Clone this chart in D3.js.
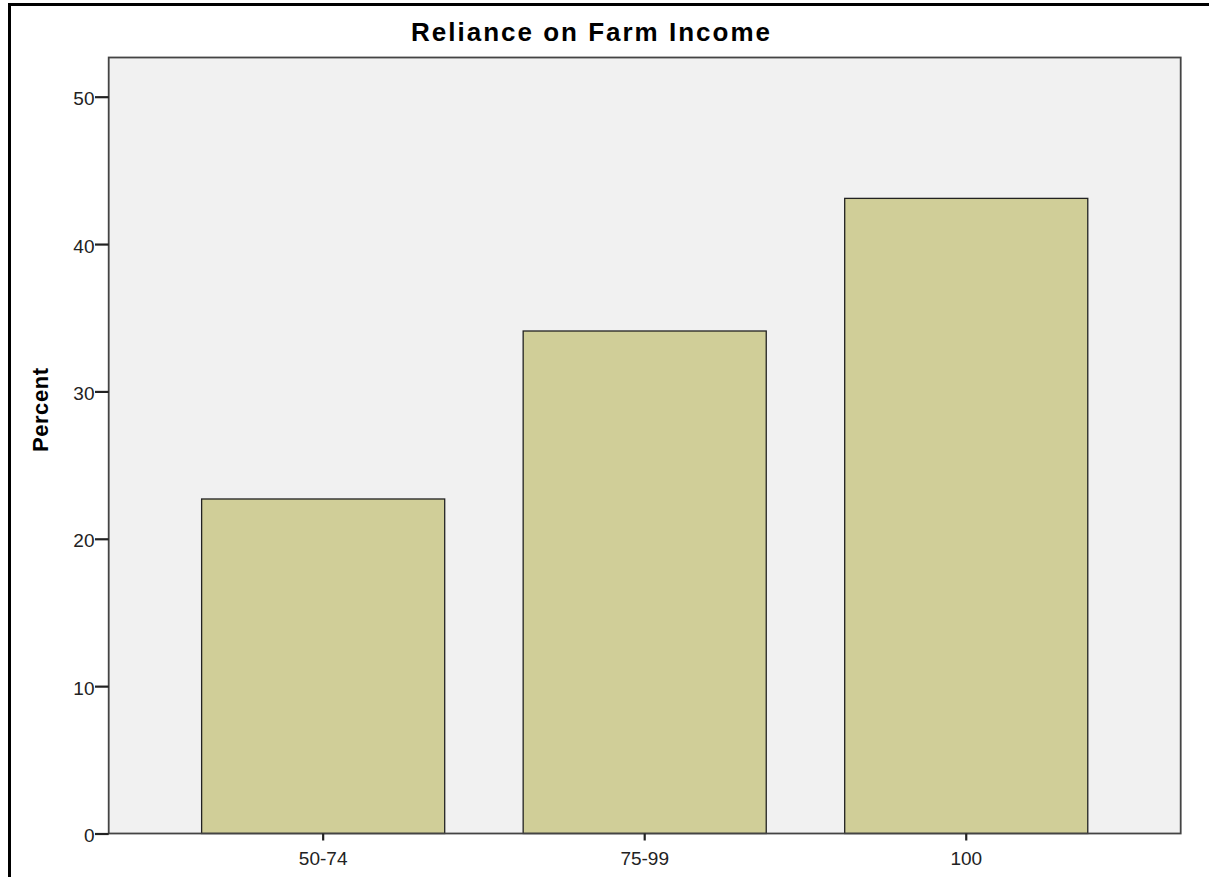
<!DOCTYPE html>
<html><head><meta charset="utf-8">
<script src="https://cdn.jsdelivr.net/npm/d3@7"></script>
<style>body{margin:0;background:#fff}svg{display:block}</style>
</head><body>
<script>
const categories = ["50-74", "75-99", "100"];
const percents = [22.7, 34.1, 43.1];
const yTicks = [0, 10, 20, 30, 40, 50];
const title = "Reliance on Farm Income";
const yLabel = "Percent";

const W = 1209, H = 877;
const svg = d3.select("body").append("svg").attr("width", W).attr("height", H);
const FONT = "Liberation Sans, Arial, sans-serif";

// outer frame (top and left edges visible)
svg.append("line").attr("x1", 9.5).attr("x2", W).attr("y1", 4.5).attr("y2", 4.5).attr("stroke", "#000").attr("stroke-width", 3);
svg.append("line").attr("x1", 9.5).attr("x2", 9.5).attr("y1", 3).attr("y2", H).attr("stroke", "#000").attr("stroke-width", 3);

const L = 108.7, R = 1180.7, T = 57.5, B = 833.5;
const x = d3.scaleBand().domain(categories).range([L, R]).paddingInner(0.244).paddingOuter(0.289);
const y = d3.scaleLinear().domain([0, 50]).range([B, 96.7]);

svg.append("rect").attr("x", L).attr("y", T).attr("width", R - L).attr("height", B - T)
  .attr("fill", "#f1f1f1");

svg.selectAll("rect.bar").data(percents).join("rect").attr("class", "bar")
  .attr("x", (d, i) => x(categories[i]))
  .attr("y", d => y(d))
  .attr("width", x.bandwidth())
  .attr("height", d => B - y(d))
  .attr("fill", "#d0ce98").attr("stroke", "#222").attr("stroke-width", 1.3);

svg.append("rect").attr("x", L).attr("y", T).attr("width", R - L).attr("height", B - T)
  .attr("fill", "none").attr("stroke", "#444").attr("stroke-width", 1.8);

const yAxis = svg.append("g").attr("transform", `translate(${L},0)`)
  .call(d3.axisLeft(y).tickValues(yTicks).tickSize(13.7).tickSizeOuter(0).tickPadding(0.5));
yAxis.select(".domain").remove();
yAxis.selectAll(".tick line").attr("stroke", "#222").attr("stroke-width", 2.2);
yAxis.selectAll(".tick text").attr("font-family", FONT).attr("font-size", 19).attr("fill", "#222").attr("dy", "0.42em");

const xAxis = svg.append("g").attr("transform", `translate(0,${B})`)
  .call(d3.axisBottom(x).tickSize(7).tickSizeOuter(0).tickPadding(11));
xAxis.select(".domain").remove();
xAxis.selectAll(".tick line").attr("stroke", "#222").attr("stroke-width", 2.2);
xAxis.selectAll(".tick text").attr("font-family", FONT).attr("font-size", 19).attr("fill", "#222");

svg.append("text").attr("x", 411).attr("y", 41)
  .attr("font-family", FONT).attr("font-weight", "bold")
  .attr("font-size", 26).attr("textLength", 359).attr("lengthAdjust", "spacing")
  .attr("fill", "#000").text(title);

svg.append("text").attr("transform", "translate(48,452) rotate(-90)")
  .attr("font-family", FONT).attr("font-weight", "bold")
  .attr("font-size", 22).attr("textLength", 84).attr("lengthAdjust", "spacing")
  .attr("fill", "#000").text(yLabel);
</script>
</body></html>
